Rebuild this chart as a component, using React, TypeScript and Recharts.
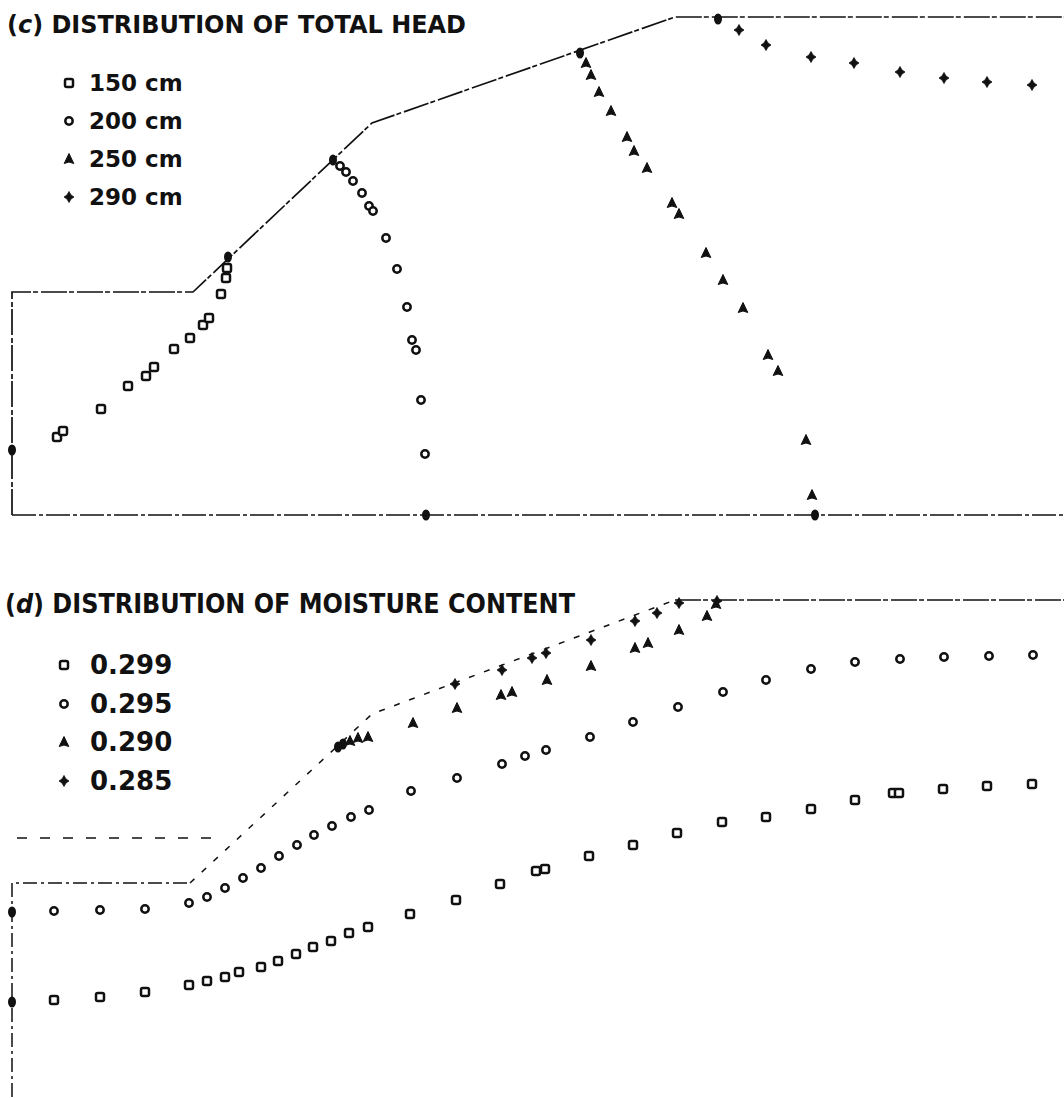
import { ScatterChart, Scatter, XAxis, YAxis, Legend } from 'recharts';

type Pt = { x: number; y: number };

const FONT = "'DejaVu Sans', 'Liberation Sans', sans-serif";
const INK = '#111';

// (c) total head. x = distance from upstream face, y = height above base
const headOutline: Pt[] = [
  { x: 0, y: 0 }, { x: 0, y: 223 }, { x: 181, y: 223 }, { x: 360, y: 392 }, { x: 663, y: 498 }, { x: 1052, y: 498 },
];
const headBase: Pt[] = [{ x: 0, y: 0 }, { x: 1052, y: 0 }];
const head150: Pt[] = [
  { x: 45, y: 78 }, { x: 51, y: 84 }, { x: 89, y: 106 }, { x: 116, y: 129 }, { x: 134, y: 139 }, { x: 142, y: 148 },
  { x: 162, y: 166 }, { x: 178, y: 177 }, { x: 191, y: 190 }, { x: 197, y: 197 }, { x: 209, y: 221 }, { x: 214, y: 237 },
  { x: 215, y: 247 },
];
const head200: Pt[] = [
  { x: 328, y: 349 }, { x: 334, y: 343 }, { x: 341, y: 334 }, { x: 350, y: 322 }, { x: 357, y: 309 }, { x: 361, y: 304 },
  { x: 374, y: 277 }, { x: 385, y: 246 }, { x: 395, y: 208 }, { x: 400, y: 175 }, { x: 404, y: 165 }, { x: 409, y: 115 },
  { x: 413, y: 61 },
];
const head250: Pt[] = [
  { x: 574, y: 452 }, { x: 579, y: 440 }, { x: 587, y: 423 }, { x: 599, y: 404 }, { x: 615, y: 378 }, { x: 622, y: 364 },
  { x: 635, y: 347 }, { x: 660, y: 312 }, { x: 667, y: 301 }, { x: 694, y: 262 }, { x: 711, y: 235 }, { x: 731, y: 207 },
  { x: 756, y: 160 }, { x: 766, y: 144 }, { x: 794, y: 75 }, { x: 800, y: 20 },
];
const head290: Pt[] = [
  { x: 727, y: 485 }, { x: 754, y: 470 }, { x: 799, y: 458 }, { x: 842, y: 452 }, { x: 888, y: 443 }, { x: 932, y: 437 },
  { x: 975, y: 433 }, { x: 1020, y: 430 },
];
// points lying on the boundary (drawn solid)
const headBoundary: Pt[] = [
  { x: 0, y: 65 }, { x: 216, y: 258 }, { x: 321, y: 355 }, { x: 414, y: 0 }, { x: 568, y: 462 }, { x: 803, y: 0 },
  { x: 706, y: 496 },
];

// (d) moisture content, same frame
const moistFace: Pt[] = [{ x: 0, y: 0 }, { x: 0, y: 214 }, { x: 178, y: 214 }];
const moistSlope: Pt[] = [{ x: 178, y: 214 }, { x: 360, y: 383 }, { x: 663, y: 497 }];
const moistCrest: Pt[] = [{ x: 663, y: 497 }, { x: 1052, y: 497 }];
const moistGround: Pt[] = [{ x: 5, y: 259 }, { x: 212, y: 259 }];
const m299: Pt[] = [
  { x: 42, y: 97 }, { x: 88, y: 100 }, { x: 133, y: 105 }, { x: 177, y: 112 }, { x: 195, y: 116 }, { x: 213, y: 120 },
  { x: 227, y: 125 }, { x: 249, y: 130 }, { x: 266, y: 136 }, { x: 284, y: 143 }, { x: 301, y: 150 }, { x: 319, y: 156 },
  { x: 337, y: 164 }, { x: 356, y: 170 }, { x: 398, y: 183 }, { x: 444, y: 197 }, { x: 488, y: 213 }, { x: 524, y: 226 },
  { x: 533, y: 228 }, { x: 577, y: 241 }, { x: 621, y: 252 }, { x: 665, y: 264 }, { x: 710, y: 275 }, { x: 754, y: 280 },
  { x: 799, y: 288 }, { x: 843, y: 297 }, { x: 881, y: 304 }, { x: 887, y: 304 }, { x: 931, y: 308 }, { x: 975, y: 311 },
  { x: 1020, y: 313 },
];
const m295: Pt[] = [
  { x: 42, y: 186 }, { x: 88, y: 187 }, { x: 133, y: 188 }, { x: 177, y: 194 }, { x: 195, y: 200 }, { x: 213, y: 209 },
  { x: 231, y: 219 }, { x: 249, y: 229 }, { x: 267, y: 241 }, { x: 285, y: 252 }, { x: 302, y: 262 }, { x: 320, y: 271 },
  { x: 339, y: 280 }, { x: 357, y: 287 }, { x: 399, y: 306 }, { x: 445, y: 319 }, { x: 490, y: 333 }, { x: 513, y: 341 },
  { x: 534, y: 347 }, { x: 578, y: 360 }, { x: 621, y: 375 }, { x: 666, y: 390 }, { x: 711, y: 405 }, { x: 754, y: 417 },
  { x: 799, y: 428 }, { x: 843, y: 435 }, { x: 888, y: 438 }, { x: 932, y: 440 }, { x: 977, y: 441 }, { x: 1021, y: 442 },
];
const m290: Pt[] = [
  { x: 338, y: 356 }, { x: 346, y: 359 }, { x: 356, y: 360 }, { x: 401, y: 374 }, { x: 445, y: 389 }, { x: 489, y: 402 },
  { x: 500, y: 405 }, { x: 535, y: 417 }, { x: 579, y: 431 }, { x: 623, y: 449 }, { x: 636, y: 454 }, { x: 667, y: 467 },
  { x: 695, y: 481 }, { x: 704, y: 493 },
];
const m285: Pt[] = [
  { x: 443, y: 413 }, { x: 490, y: 427 }, { x: 520, y: 439 }, { x: 534, y: 444 }, { x: 579, y: 457 }, { x: 623, y: 476 },
  { x: 645, y: 484 }, { x: 667, y: 494 }, { x: 705, y: 496 },
];
const moistBoundary: Pt[] = [{ x: 0, y: 185 }, { x: 0, y: 95 }, { x: 331, y: 353 }, { x: 326, y: 350 }];

const Square = ({ cx, cy }: any) => (
  <rect x={cx - 4} y={cy - 4} width={8} height={8} rx={1.8} fill="#fff" stroke={INK} strokeWidth={2.5} />
);
const Ring = ({ cx, cy }: any) => <circle cx={cx} cy={cy} r={3.7} fill="#fff" stroke={INK} strokeWidth={2.5} />;
const Tri = ({ cx, cy }: any) => (
  <path
    d={`M${cx},${cy - 5.5} L${cx + 4.8},${cy + 4.5} L${cx},${cy + 3} L${cx - 4.8},${cy + 4.5} Z`}
    fill={INK}
    stroke={INK}
    strokeWidth={1}
    strokeLinejoin="round"
  />
);
const Star = ({ cx, cy }: any) => (
  <path
    d={`M${cx},${cy - 5.5} L${cx + 2},${cy - 2} L${cx + 5},${cy} L${cx + 2},${cy + 2} L${cx},${cy + 5.5} L${cx - 2},${cy + 2} L${cx - 5},${cy} L${cx - 2},${cy - 2} Z`}
    fill={INK}
    stroke={INK}
    strokeWidth={0.8}
    strokeLinejoin="round"
  />
);
const Blob = ({ cx, cy }: any) => <ellipse cx={cx} cy={cy} rx={4} ry={5.5} fill={INK} />;
const NoDot = () => <g />;

const SHAPES: Record<string, any> = {
  '150 cm': Square, '200 cm': Ring, '250 cm': Tri, '290 cm': Star,
  '0.299': Square, '0.295': Ring, '0.290': Tri, '0.285': Star,
};
const ORDER = Object.keys(SHAPES);

function makeLegend(rowH: number, gap: number, size: number) {
  return (props: any) => {
    const items = (props.payload || [])
      .filter((it: any) => SHAPES[String(it.value)])
      .sort((a: any, b: any) => ORDER.indexOf(String(a.value)) - ORDER.indexOf(String(b.value)));
    return (
      <div>
        {items.map((item: any) => {
          const Shape = SHAPES[String(item.value)];
          return (
            <div key={String(item.value)} style={{ height: rowH, display: 'flex', alignItems: 'center' }}>
              <svg width={12} height={12} style={{ marginRight: gap }}>
                <Shape cx={6} cy={6} />
              </svg>
              <span style={{ fontFamily: FONT, fontWeight: 700, fontSize: size, color: INK, lineHeight: 1 }}>
                {String(item.value)}
              </span>
            </div>
          );
        })}
      </div>
    );
  };
}

function outline(data: Pt[], dash: string, key: string, width = 1.7) {
  return (
    <Scatter
      key={key}
      data={data}
      shape={NoDot}
      line={{ stroke: INK, strokeWidth: width, strokeDasharray: dash }}
      lineType="joint"
      legendType="none"
      isAnimationActive={false}
    />
  );
}

const headLegend = makeLegend(38, 14, 23);
const moistLegend = makeLegend(38.5, 20, 26);

export default function App() {
  return (
    <div style={{ position: 'absolute', left: 0, top: 0, width: 1064, height: 1098, background: '#fff', overflow: 'hidden' }}>
      <div style={{ position: 'absolute', left: 0, top: 0 }}>
        <ScatterChart width={1064} height={540} margin={{ top: 0, right: 0, left: 12, bottom: 25 }}>
          <XAxis type="number" dataKey="x" domain={[0, 1052]} hide />
          <YAxis type="number" dataKey="y" domain={[0, 515]} hide />
          {outline(headOutline, '26 2 5 3', 'o1')}
          {outline(headBase, '24 3 4 3', 'o2')}
          <Scatter name="150 cm" data={head150} shape={Square} isAnimationActive={false} />
          <Scatter name="200 cm" data={head200} shape={Ring} isAnimationActive={false} />
          <Scatter name="250 cm" data={head250} shape={Tri} isAnimationActive={false} />
          <Scatter name="290 cm" data={head290} shape={Star} isAnimationActive={false} />
          <Scatter data={headBoundary} shape={Blob} legendType="none" isAnimationActive={false} />
          <Legend
            layout="vertical"
            align="center"
            verticalAlign="middle"
            content={headLegend}
            wrapperStyle={{ left: 63, top: 64, width: 220, height: 'auto' }}
          />
        </ScatterChart>
      </div>

      <div style={{ position: 'absolute', left: 0, top: 560 }}>
        <ScatterChart width={1064} height={538} margin={{ top: 0, right: 0, left: 12, bottom: 1 }}>
          <XAxis type="number" dataKey="x" domain={[0, 1052]} hide />
          <YAxis type="number" dataKey="y" domain={[0, 537]} hide />
          {outline(moistFace, '14 4 3 4', 'f', 1.5)}
          {outline(moistSlope, '6 10', 's', 1.5)}
          {outline(moistCrest, '26 2 5 3', 'c')}
          {outline(moistGround, '10 13', 'g', 1.3)}
          <Scatter name="0.299" data={m299} shape={Square} isAnimationActive={false} />
          <Scatter name="0.295" data={m295} shape={Ring} isAnimationActive={false} />
          <Scatter name="0.290" data={m290} shape={Tri} isAnimationActive={false} />
          <Scatter name="0.285" data={m285} shape={Star} isAnimationActive={false} />
          <Scatter data={moistBoundary} shape={Blob} legendType="none" isAnimationActive={false} />
          <Legend
            layout="vertical"
            align="center"
            verticalAlign="middle"
            content={moistLegend}
            wrapperStyle={{ left: 58, top: 86, width: 220, height: 'auto' }}
          />
        </ScatterChart>
      </div>

      <svg width={1064} height={1098} style={{ position: 'absolute', left: 0, top: 0, pointerEvents: 'none' }}>
        <text x={7} y={33} fontFamily={FONT} fontWeight={700} fontSize={25} fill={INK} textLength={459} lengthAdjust="spacingAndGlyphs">
          (<tspan fontStyle="italic">c</tspan>) DISTRIBUTION OF TOTAL HEAD
        </text>
        <text x={5} y={613} fontFamily={FONT} fontWeight={700} fontSize={26} fill={INK} textLength={570} lengthAdjust="spacingAndGlyphs">
          (<tspan fontStyle="italic">d</tspan>) DISTRIBUTION OF MOISTURE CONTENT
        </text>
      </svg>
    </div>
  );
}
